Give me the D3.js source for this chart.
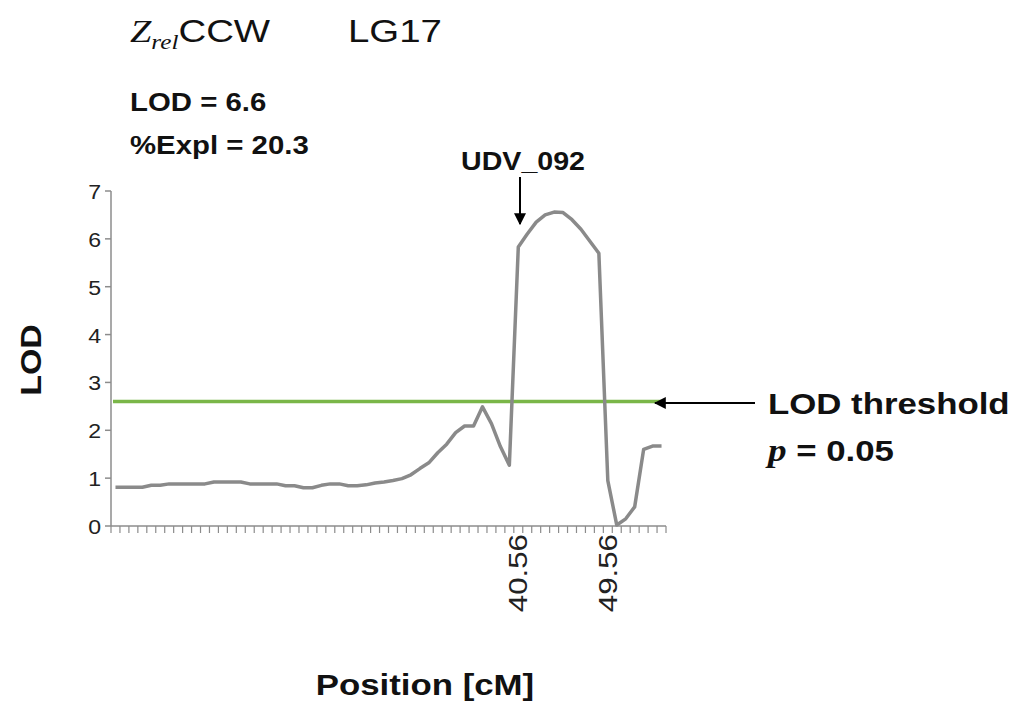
<!DOCTYPE html>
<html><head><meta charset="utf-8">
<script src="https://cdn.jsdelivr.net/npm/d3@7"></script>
<style>body{margin:0;background:#fff}text{font-family:"Liberation Sans",Arial,sans-serif}</style>
</head><body><svg id="c" width="1024" height="713"></svg>
<script>
const lodValues=[0.81,0.81,0.81,0.81,0.85,0.85,0.88,0.88,0.88,0.88,0.88,0.92,0.92,0.92,0.92,0.88,0.88,0.88,0.88,0.84,0.84,0.80,0.80,0.85,0.88,0.88,0.84,0.84,0.86,0.90,0.92,0.95,0.99,1.07,1.20,1.32,1.53,1.71,1.95,2.09,2.09,2.49,2.14,1.66,1.27,5.83,6.10,6.35,6.50,6.56,6.55,6.40,6.20,5.95,5.70,0.95,0.02,0.15,0.40,1.60,1.67,1.67];
const categories=lodValues.map((d,i)=>i);
const tickLabels={45:"40.56",55:"49.56"};
const threshold=2.6;
const yTicks=[0,1,2,3,4,5,6,7];

const svg=d3.select("#c");
const x=d3.scaleBand().domain(categories).range([111,666]);
const y=d3.scaleLinear().domain([0,7]).range([526,191]);
const xc=i=>x(i)+x.bandwidth()/2;
const ax="#8c8c8c";
function txt(px,py,size,sx,anchor,rot,bold){
  return svg.append("text").attr("transform",`translate(${px},${py}) rotate(${rot||0}) scale(${sx},1)`)
    .attr("text-anchor",anchor||"start").attr("font-size",size).attr("font-weight",bold?"bold":"normal").attr("fill","#111");
}

svg.append("line").attr("x1",111).attr("x2",111).attr("y1",y(7)).attr("y2",y(0)).attr("stroke",ax).attr("stroke-width",1.5);
yTicks.forEach(t=>{
  svg.append("line").attr("x1",105).attr("x2",111).attr("y1",y(t)).attr("y2",y(t)).attr("stroke",ax).attr("stroke-width",1.5);
  txt(101,y(t)+8,21,1.1,"end").attr("fill","#222").text(t);
});
svg.append("line").attr("x1",111).attr("x2",666).attr("y1",y(0)).attr("y2",y(0)).attr("stroke",ax).attr("stroke-width",1.5);
categories.concat([categories.length]).forEach(i=>{
  const xx=i<categories.length?x(i):x(categories.length-1)+x.bandwidth();
  svg.append("line").attr("x1",xx).attr("x2",xx).attr("y1",y(0)).attr("y2",y(0)+7).attr("stroke",ax).attr("stroke-width",1.2);
});
Object.entries(tickLabels).forEach(([i,l])=>{
  txt(xc(+i)+9,534,25,1.25,"end",-90).attr("fill","#222").text(l);
});
svg.append("line").attr("x1",113).attr("x2",665).attr("y1",y(threshold)).attr("y2",y(threshold)).attr("stroke","#7ab648").attr("stroke-width",3.5);
svg.append("path").datum(lodValues).attr("fill","none").attr("stroke","#8a8a8a").attr("stroke-width",3.5).attr("stroke-linejoin","round")
  .attr("d",d3.line().x((d,i)=>xc(i)).y(d=>y(d)));

txt(41,360,29,1.17,"middle",-90,true).text("LOD");
txt(425,695,29,1.2,"middle",0,true).text("Position [cM]");
const t=txt(130,42,32,1.2);
t.append("tspan").attr("font-family","Liberation Serif,serif").attr("font-style","italic").text("Z");
t.append("tspan").attr("font-family","Liberation Serif,serif").attr("font-style","italic").attr("font-size",21).attr("dy",7).text("rel");
t.append("tspan").attr("dy",-7).text("CCW");
txt(348,42,32,1.2).text("LG17");
txt(130,111,26,1.13,"start",0,true).text("LOD = 6.6");
txt(130,154,26,1.13,"start",0,true).text("%Expl = 20.3");
txt(523,170,26,1.1,"middle",0,true).text("UDV_092");
svg.append("defs").append("marker").attr("id","ah").attr("viewBox","0 0 10 10").attr("refX",9).attr("refY",5).attr("markerWidth",6).attr("markerHeight",6).attr("orient","auto")
  .append("path").attr("d","M0,0L10,5L0,10z").attr("fill","#000");
svg.append("line").attr("x1",520).attr("x2",520).attr("y1",177).attr("y2",224).attr("stroke","#000").attr("stroke-width",2).attr("marker-end","url(#ah)");
svg.append("line").attr("x1",755).attr("x2",655).attr("y1",403).attr("y2",403).attr("stroke","#000").attr("stroke-width",2).attr("marker-end","url(#ah)");
txt(768,414,29,1.2,"start",0,true).text("LOD threshold");
const p=txt(768,461,29,1.2,"start",0,true);
p.append("tspan").attr("font-family","Liberation Serif,serif").attr("font-style","italic").attr("font-size",31).text("p");
p.append("tspan").text(" = 0.05");
</script></body></html>
